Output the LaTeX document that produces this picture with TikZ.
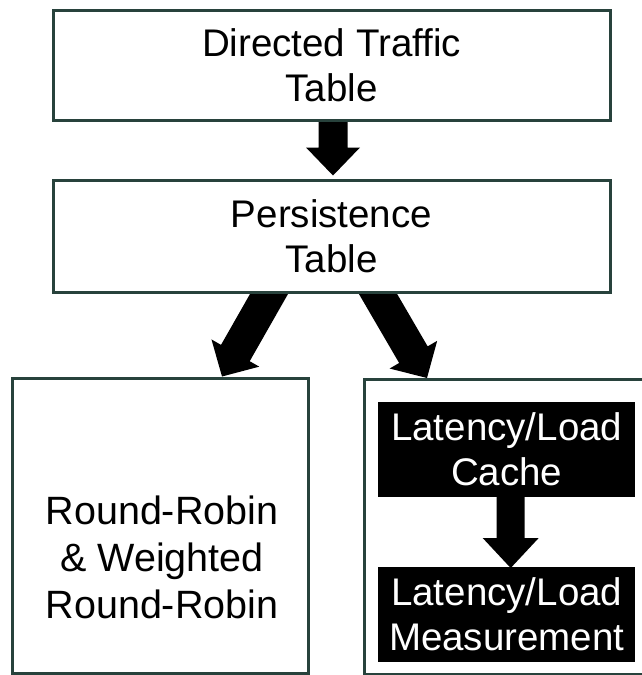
\documentclass[tikz,border=0pt]{standalone}
\usepackage{fontspec}
\setmainfont{Liberation Sans}
\usetikzlibrary{calc,backgrounds}
\definecolor{edgecol}{RGB}{40,66,60}
\newcommand\fatarr[5]{% #1 start, #2 tip, #3 shaft half width, #4 head half width, #5 head length
  \coordinate (fatH) at ($(#2)!#5!(#1)$);
  \fill[black] ($(#1)!#3!90:(#2)$) -- ($(fatH)!#3!90:(#2)$) -- ($(fatH)!#4!90:(#2)$) -- (#2)
    -- ($(fatH)!#4!-90:(#2)$) -- ($(fatH)!#3!-90:(#2)$) -- ($(#1)!#3!-90:(#2)$) -- cycle;
}
\begin{document}
\begin{tikzpicture}[x=1pt,y=-1pt,
  box/.style={draw=edgecol,line width=3pt,fill=white,inner sep=0pt,align=center},
  toptext/.style={font=\fontsize{38.5}{45}\selectfont},
  blk/.style={fill=black,text=white,inner sep=0pt,align=center,minimum width=257pt,minimum height=95pt,anchor=north west,font=\fontsize{38.5}{45}\selectfont},
  rrtextstyle/.style={align=center,inner sep=0pt,font=\fontsize{39.5}{47}\selectfont}
]
\clip (0,0) rectangle (642,675);

\node[box,toptext,minimum width=557pt,minimum height=110pt] (dtt) at (331.5,65) {Directed Traffic\\Table};
\node[box,toptext,minimum width=557pt,minimum height=112pt] (pt) at (331.5,236) {Persistence\\Table};
\node[box,minimum width=296pt,minimum height=295pt] (rrb) at (160,525.5) {};
\node[rrtextstyle] (rrt) at (162,557) {Round-Robin\\\& Weighted\\Round-Robin};
\node[box,minimum width=310pt,minimum height=295pt,anchor=north west] (llb) at (363,378) {};
\node[blk] (cache) at (378,402) {Latency/Load\\Cache};
\node[blk] (meas) at (378,567) {Latency/Load\\Measurement};

\begin{pgfonlayer}{background}
  \fill[white] (0,0) rectangle (642,675);
  \coordinate (a1s) at ($(dtt.south)+(1.5,-6)$);
  \coordinate (a1t) at ($(pt.north)+(1.5,-3)$);
  \fatarr{a1s}{a1t}{14.5pt}{27pt}{28pt}
  \coordinate (a2s) at ($(pt.south)+(-60.5,-3)$);
  \coordinate (a2t) at ($(rrb.north)+(62,0)$);
  \coordinate (a2b) at ($(a2s)!-20pt!(a2t)$);
  \fatarr{a2b}{a2t}{16.5pt}{27.5pt}{27pt}
  \coordinate (a3s) at ($(pt.south)+(44.5,-3)$);
  \coordinate (a3t) at ($(llb.north west)+(64,0)$);
  \coordinate (a3b) at ($(a3s)!-20pt!(a3t)$);
  \fatarr{a3b}{a3t}{16.5pt}{27.5pt}{27pt}
\end{pgfonlayer}
\coordinate (a4s) at ($(cache.south)+(4,-3)$);
\coordinate (a4t) at ($(meas.north)+(4,1)$);
\fatarr{a4s}{a4t}{14pt}{28pt}{30pt}
\end{tikzpicture}
\end{document}
